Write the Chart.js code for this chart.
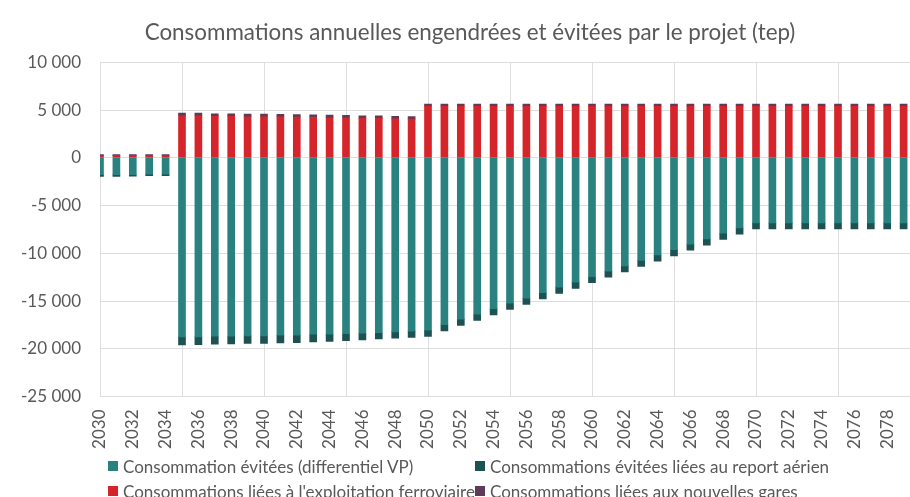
<!DOCTYPE html>
<html><head><meta charset="utf-8">
<script src="https://cdn.jsdelivr.net/npm/chart.js@4.4.0/dist/chart.umd.min.js"></script>
<style>
html,body{margin:0;padding:0;overflow:hidden;background:#fff;width:910px;height:497px}
#wrap{position:relative;width:940px;height:497px}
#legend{position:absolute;left:0;top:0;width:940px;height:497px;pointer-events:none;font-family:Lato,sans-serif;font-size:17px;color:#595959}
.item{position:absolute;white-space:nowrap;display:flex;align-items:center;height:20px}
.box{display:inline-block;width:10px;height:10px;margin-right:5px}
</style></head><body>
<div id="wrap"><canvas id="c" width="940" height="497"></canvas><div id="legend"></div></div>
<script>
const title = "Consommations annuelles engendrées et évitées par le projet (tep)";
const years = [2030,2031,2032,2033,2034,2035,2036,2037,2038,2039,2040,2041,2042,2043,2044,2045,2046,2047,2048,2049,
2050,2051,2052,2053,2054,2055,2056,2057,2058,2059,2060,2061,2062,2063,2064,2065,2066,2067,2068,2069,
2070,2071,2072,2073,2074,2075,2076,2077,2078,2079];
const seriesNames = ["Consommation évitées (differentiel VP)","Consommations évitées liées au report aérien","Consommations liées à l'exploitation ferroviaire","Consommations liées aux nouvelles gares"];
const seriesColors = ["#298280","#1d5252","#d6242b","#5e3b59"];
const evitVP = [-1750,-1750,-1770,-1700,-1700,-18760,-18760,-18690,-18690,-18650,-18650,-18580,-18580,-18480,-18480,-18410,-18370,-18300,-18230,-18160,
-18060,-17480,-16900,-16380,-15800,-15220,-14700,-14120,-13540,-13020,-12440,-11860,-11310,-10740,-10180,-9630,-9030,-8500,-7900,-7350,
-6820,-6820,-6820,-6820,-6820,-6820,-6820,-6820,-6820,-6820];
const evitAir = [-200,-200,-160,-180,-180,-840,-820,-830,-810,-800,-790,-800,-780,-790,-750,-730,-700,-680,-660,-650,
-650,-650,-650,-650,-650,-650,-650,-650,-650,-650,-640,-640,-640,-640,-640,-640,-640,-640,-640,-640,
-630,-630,-630,-630,-630,-630,-630,-630,-630,-630];
const ferro = [230,230,230,230,230,4410,4410,4340,4340,4300,4300,4300,4270,4230,4200,4200,4130,4130,4090,4060,
5390,5390,5390,5390,5390,5390,5390,5390,5390,5390,5390,5390,5390,5390,5390,5390,5390,5390,5390,5390,
5390,5390,5390,5390,5390,5390,5390,5390,5390,5390];
const gares = [100,100,100,100,100,280,280,280,280,280,280,270,270,270,270,260,260,260,260,250,
250,250,250,250,250,250,250,250,250,250,250,250,250,250,250,250,250,250,250,250,
250,250,250,250,250,250,250,250,250,250];
const yTicks = [10000,5000,0,-5000,-10000,-15000,-20000,-25000];

const txt = '#595959', gridC = '#dedede', font = 'Lato';
const fmt = v => { const s = Math.abs(v).toString().replace(/\B(?=(\d{3})+(?!\d))/g, ' '); return (v < 0 ? '-' : '') + s; };

const data = [evitVP, evitAir, ferro, gares];
new Chart(document.getElementById('c'), {
  type: 'bar',
  data: {
    labels: years,
    datasets: data.map((d, i) => ({ label: seriesNames[i], data: d, backgroundColor: seriesColors[i], borderWidth: 0, barThickness: 7, clip: 0 }))
  },
  options: {
    responsive: false, animation: false,
    layout: { padding: { left: 20, right: 20, top: 0, bottom: 0 } },
    plugins: {
      legend: { display: false },
      tooltip: { enabled: false },
      title: { display: true, text: title, color: txt, font: { family: font, size: 22.4, weight: 'normal', lineHeight: 1.2 }, padding: { top: 19.5, bottom: 16 } }
    },
    scales: {
      x: {
        type: 'linear', stacked: true, offset: false, min: 2030, max: 2080,
        grid: { offset: false, drawTicks: false, lineWidth: 1, color: c => (c.tick && c.tick.value % 5 === 0) ? gridC : 'rgba(0,0,0,0)' },
        border: { display: false },
        ticks: { stepSize: 1, autoSkip: false, minRotation: 90, maxRotation: 90, padding: 13, color: txt, font: { family: font, size: 17 },
          callback: v => (v % 2 === 0 ? String(v) : '') },
        afterFit: s => { s.height = 100.5; s.paddingLeft = 0; s.paddingRight = 0; }
      },
      y: {
        stacked: true, min: -25000, max: 10000,
        afterBuildTicks: s => { s.ticks = yTicks.map(v => ({ value: v })); },
        grid: { drawTicks: false, color: gridC, lineWidth: 1 },
        border: { display: false },
        ticks: { padding: 19, color: txt, font: { family: font, size: 17 }, callback: v => fmt(v) },
        afterFit: s => { s.width = 80; s.paddingTop = 0; s.paddingBottom = 0; }
      }
    }
  }
});

const lg = document.getElementById('legend');
const pos = [[108, 456], [475, 456], [108, 481], [475, 481]];
seriesNames.forEach((n, i) => {
  const d = document.createElement('div');
  d.className = 'item';
  d.style.left = pos[i][0] + 'px';
  d.style.top = pos[i][1] + 'px';
  d.innerHTML = '<span class="box" style="background:' + seriesColors[i] + '"></span><span>' + n + '</span>';
  lg.appendChild(d);
});
</script>
</body></html>
